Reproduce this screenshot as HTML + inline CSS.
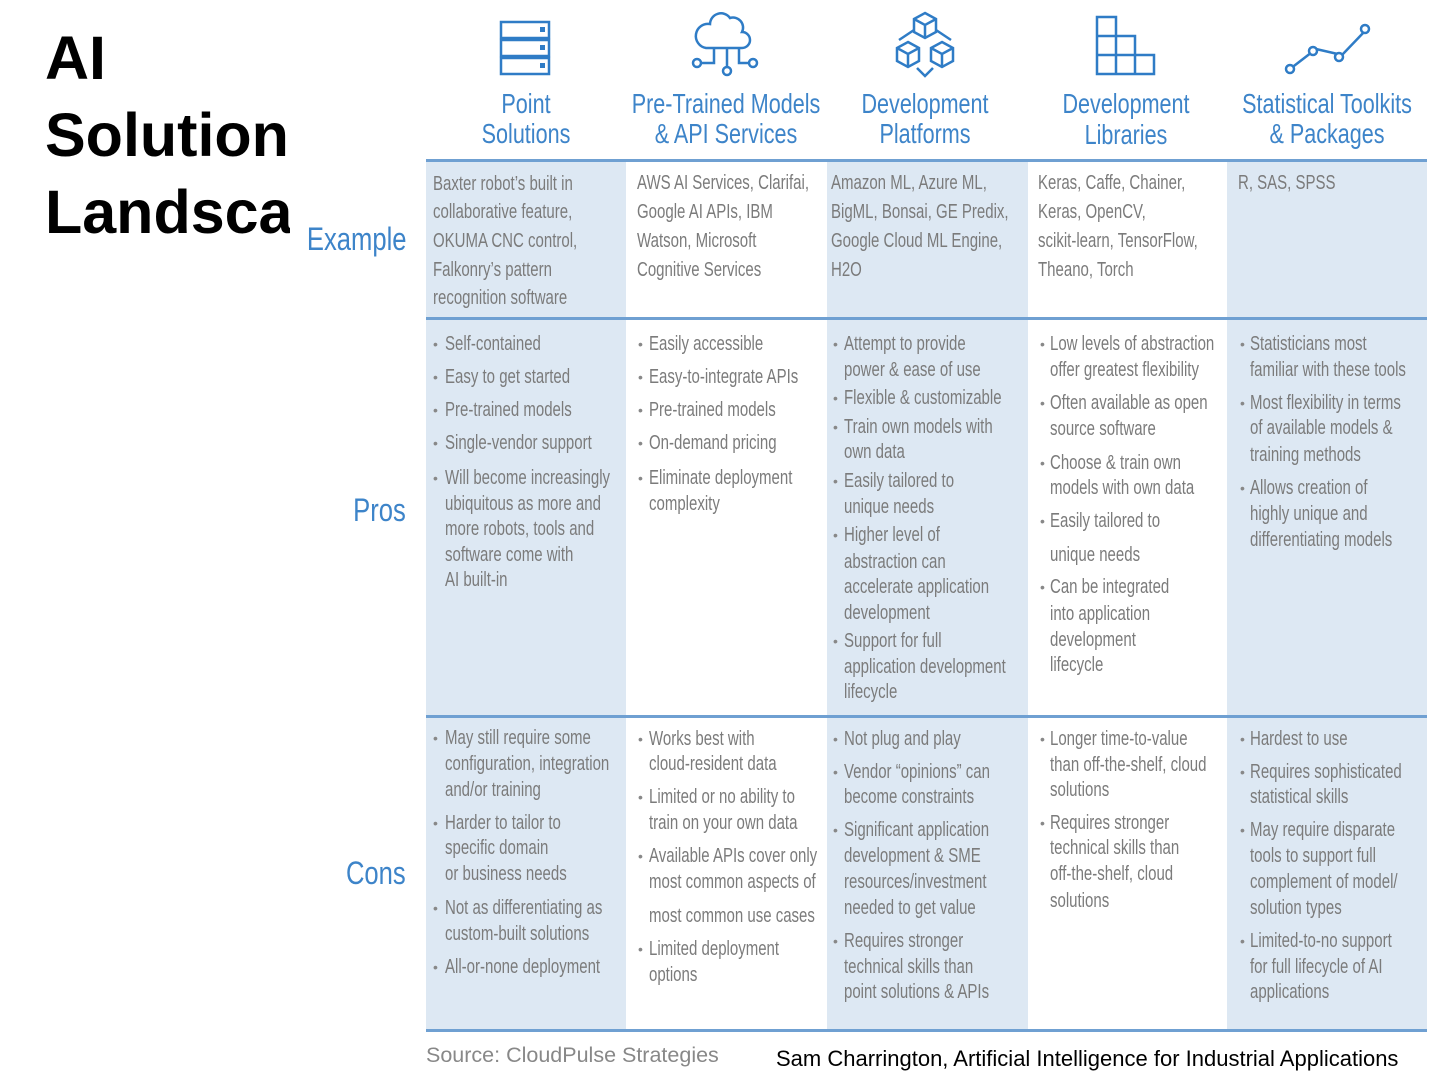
<!DOCTYPE html>
<html><head><meta charset="utf-8"><style>
body{margin:0;width:1440px;height:1080px;background:#fff;position:relative;overflow:hidden;font-family:"Liberation Sans",sans-serif}
.bg{position:absolute;top:162px;height:868px;background:#dde8f3}
.hl{position:absolute;left:426px;width:1001px;background:#6fa0d2}
.t{position:absolute;font-size:20px;line-height:24px;color:#7b7b7b;white-space:nowrap;transform:scaleX(.75);transform-origin:0 50%}
.b{position:absolute;font-size:14px;line-height:24px;color:#888}
.h{position:absolute;font-size:28px;line-height:30px;color:#3d84c9;white-space:nowrap;transform:translateX(-50%) scaleX(.77);text-align:center}
.r{position:absolute;font-size:32px;line-height:36px;color:#3d84c9;white-space:nowrap;transform:scaleX(.8);transform-origin:100% 50%;text-align:right;right:1034px}
.ti{position:absolute;left:45px;width:245px;overflow:hidden;font-weight:bold;font-size:61px;line-height:70px;color:#000;white-space:nowrap}
</style></head><body>
<div class="ti" style="top:23px">AI</div>
<div class="ti" style="top:100px">Solution</div>
<div class="ti" style="top:177px">Landsca</div>

<div class="bg" style="left:426px;width:200px"></div>
<div class="bg" style="left:827px;width:201px"></div>
<div class="bg" style="left:1227px;width:200px"></div>
<div class="hl" style="top:159px;height:3px"></div>
<div class="hl" style="top:317px;height:3px"></div>
<div class="hl" style="top:715px;height:3px"></div>
<div class="hl" style="top:1029px;height:3px"></div>

<svg style="position:absolute;left:0;top:0" width="1440" height="160" fill="none" stroke="#2f7cc6" stroke-width="2.5">
<rect x="501" y="22" width="48" height="16"/><rect x="501" y="40" width="48" height="16"/><rect x="501" y="58" width="48" height="16"/>
<rect x="540" y="27" width="5" height="5" fill="#2f7cc6" stroke="none"/><rect x="540" y="45" width="5" height="5" fill="#2f7cc6" stroke="none"/><rect x="540" y="63" width="5" height="5" fill="#2f7cc6" stroke="none"/>
<path d="M706 48 h36 a8 8 0 0 0 0-16 a10 10 0 0 0-12-14 a11 11 0 0 0-20 6 a8 8 0 0 0-4 24z"/>
<path d="M714 48 v15 h-13 M727 48 v20 M739 48 v15 h10"/><circle cx="697" cy="63" r="4"/><circle cx="727" cy="71" r="4"/><circle cx="753" cy="63" r="4"/>
<path d="M925 13 l11 6 v13 l-11 6 l-11-6 v-13z M914 19 l11 6 l11-6 M925 25 v13"/>
<path d="M908 42 l11 6 v13 l-11 6 l-11-6 v-13z M897 48 l11 6 l11-6 M908 54 v13"/>
<path d="M942 42 l11 6 v13 l-11 6 l-11-6 v-13z M931 48 l11 6 l11-6 M942 54 v13"/>
<path d="M914 30 l-15 10 M936 30 l15 10 M917 68 l8 8 l8-8"/>
<path d="M1097 17 h19 v19 h-19z M1097 36 h19 v19 h19 v19 h-38z M1116 36 h19 v38 M1097 55 h38 h19 v19 h-19 M1116 55 v19"/>
<path d="M1290 69 l26-20 l26 6 l23-24"/><circle cx="1290" cy="69" r="4" fill="#fff"/><circle cx="1313" cy="51" r="4" fill="#fff"/><circle cx="1339" cy="57" r="4" fill="#fff"/><circle cx="1365" cy="29" r="4" fill="#fff"/>
</svg>

<div class="h" style="left:526px;top:89px">Point</div><div class="h" style="left:526px;top:119px">Solutions</div>
<div class="h" style="left:726px;top:89px">Pre-Trained Models</div><div class="h" style="left:726px;top:119px">&amp; API Services</div>
<div class="h" style="left:925px;top:89px">Development</div><div class="h" style="left:925px;top:119px">Platforms</div>
<div class="h" style="left:1126px;top:89px">Development</div><div class="h" style="left:1126px;top:120px">Libraries</div>
<div class="h" style="left:1327px;top:89px">Statistical Toolkits</div><div class="h" style="left:1327px;top:119px">&amp; Packages</div>

<div class="r" style="top:221px">Example</div>
<div class="r" style="top:492px">Pros</div>
<div class="r" style="top:855px">Cons</div>

<div class="t" style="left:433px;top:172px">Baxter robot’s built in</div>
<div class="t" style="left:433px;top:200px">collaborative feature,</div>
<div class="t" style="left:433px;top:229px">OKUMA CNC control,</div>
<div class="t" style="left:433px;top:258px">Falkonry’s pattern</div>
<div class="t" style="left:433px;top:286px">recognition software</div>
<div class="t" style="left:637px;top:171px">AWS AI Services, Clarifai,</div>
<div class="t" style="left:637px;top:200px">Google AI APIs, IBM</div>
<div class="t" style="left:637px;top:229px">Watson, Microsoft</div>
<div class="t" style="left:637px;top:258px">Cognitive Services</div>
<div class="t" style="left:831px;top:171px">Amazon ML, Azure ML,</div>
<div class="t" style="left:831px;top:200px">BigML, Bonsai, GE Predix,</div>
<div class="t" style="left:831px;top:229px">Google Cloud ML Engine,</div>
<div class="t" style="left:831px;top:258px">H2O</div>
<div class="t" style="left:1038px;top:171px">Keras, Caffe, Chainer,</div>
<div class="t" style="left:1038px;top:200px">Keras, OpenCV,</div>
<div class="t" style="left:1038px;top:229px">scikit-learn, TensorFlow,</div>
<div class="t" style="left:1038px;top:258px">Theano, Torch</div>
<div class="t" style="left:1238px;top:171px">R, SAS, SPSS</div>

<div class="b" style="left:433px;top:332px">•</div><div class="t" style="left:445px;top:332px">Self-contained</div>
<div class="b" style="left:433px;top:365px">•</div><div class="t" style="left:445px;top:365px">Easy to get started</div>
<div class="b" style="left:433px;top:398px">•</div><div class="t" style="left:445px;top:398px">Pre-trained models</div>
<div class="b" style="left:433px;top:431px">•</div><div class="t" style="left:445px;top:431px">Single-vendor support</div>
<div class="b" style="left:433px;top:466px">•</div><div class="t" style="left:445px;top:466px">Will become increasingly</div>
<div class="t" style="left:445px;top:492px">ubiquitous as more and</div>
<div class="t" style="left:445px;top:517px">more robots, tools and</div>
<div class="t" style="left:445px;top:543px">software come with</div>
<div class="t" style="left:445px;top:568px">AI built-in</div>
<div class="b" style="left:638px;top:332px">•</div><div class="t" style="left:649px;top:332px">Easily accessible</div>
<div class="b" style="left:638px;top:365px">•</div><div class="t" style="left:649px;top:365px">Easy-to-integrate APIs</div>
<div class="b" style="left:638px;top:398px">•</div><div class="t" style="left:649px;top:398px">Pre-trained models</div>
<div class="b" style="left:638px;top:431px">•</div><div class="t" style="left:649px;top:431px">On-demand pricing</div>
<div class="b" style="left:638px;top:466px">•</div><div class="t" style="left:649px;top:466px">Eliminate deployment</div>
<div class="t" style="left:649px;top:492px">complexity</div>
<div class="b" style="left:833px;top:332px">•</div><div class="t" style="left:844px;top:332px">Attempt to provide</div>
<div class="t" style="left:844px;top:358px">power &amp; ease of use</div>
<div class="b" style="left:833px;top:386px">•</div><div class="t" style="left:844px;top:386px">Flexible &amp; customizable</div>
<div class="b" style="left:833px;top:415px">•</div><div class="t" style="left:844px;top:415px">Train own models with</div>
<div class="t" style="left:844px;top:440px">own data</div>
<div class="b" style="left:833px;top:469px">•</div><div class="t" style="left:844px;top:469px">Easily tailored to</div>
<div class="t" style="left:844px;top:495px">unique needs</div>
<div class="b" style="left:833px;top:523px">•</div><div class="t" style="left:844px;top:523px">Higher level of</div>
<div class="t" style="left:844px;top:550px">abstraction can</div>
<div class="t" style="left:844px;top:575px">accelerate application</div>
<div class="t" style="left:844px;top:601px">development</div>
<div class="b" style="left:833px;top:629px">•</div><div class="t" style="left:844px;top:629px">Support for full</div>
<div class="t" style="left:844px;top:655px">application development</div>
<div class="t" style="left:844px;top:680px">lifecycle</div>
<div class="b" style="left:1040px;top:332px">•</div><div class="t" style="left:1050px;top:332px">Low levels of abstraction</div>
<div class="t" style="left:1050px;top:358px">offer greatest flexibility</div>
<div class="b" style="left:1040px;top:391px">•</div><div class="t" style="left:1050px;top:391px">Often available as open</div>
<div class="t" style="left:1050px;top:417px">source software</div>
<div class="b" style="left:1040px;top:451px">•</div><div class="t" style="left:1050px;top:451px">Choose &amp; train own</div>
<div class="t" style="left:1050px;top:476px">models with own data</div>
<div class="b" style="left:1040px;top:509px">•</div><div class="t" style="left:1050px;top:509px">Easily tailored to</div>
<div class="t" style="left:1050px;top:543px">unique needs</div>
<div class="b" style="left:1040px;top:575px">•</div><div class="t" style="left:1050px;top:575px">Can be integrated</div>
<div class="t" style="left:1050px;top:602px">into application</div>
<div class="t" style="left:1050px;top:628px">development</div>
<div class="t" style="left:1050px;top:653px">lifecycle</div>
<div class="b" style="left:1240px;top:332px">•</div><div class="t" style="left:1250px;top:332px">Statisticians most</div>
<div class="t" style="left:1250px;top:358px">familiar with these tools</div>
<div class="b" style="left:1240px;top:391px">•</div><div class="t" style="left:1250px;top:391px">Most flexibility in terms</div>
<div class="t" style="left:1250px;top:416px">of available models &amp;</div>
<div class="t" style="left:1250px;top:443px">training methods</div>
<div class="b" style="left:1240px;top:476px">•</div><div class="t" style="left:1250px;top:476px">Allows creation of</div>
<div class="t" style="left:1250px;top:502px">highly unique and</div>
<div class="t" style="left:1250px;top:528px">differentiating models</div>

<div class="b" style="left:433px;top:726px">•</div><div class="t" style="left:445px;top:726px">May still require some</div>
<div class="t" style="left:445px;top:752px">configuration, integration</div>
<div class="t" style="left:445px;top:778px">and/or training</div>
<div class="b" style="left:433px;top:811px">•</div><div class="t" style="left:445px;top:811px">Harder to tailor to</div>
<div class="t" style="left:445px;top:836px">specific domain</div>
<div class="t" style="left:445px;top:862px">or business needs</div>
<div class="b" style="left:433px;top:896px">•</div><div class="t" style="left:445px;top:896px">Not as differentiating as</div>
<div class="t" style="left:445px;top:922px">custom-built solutions</div>
<div class="b" style="left:433px;top:955px">•</div><div class="t" style="left:445px;top:955px">All-or-none deployment</div>
<div class="b" style="left:638px;top:727px">•</div><div class="t" style="left:649px;top:727px">Works best with</div>
<div class="t" style="left:649px;top:752px">cloud-resident data</div>
<div class="b" style="left:638px;top:785px">•</div><div class="t" style="left:649px;top:785px">Limited or no ability to</div>
<div class="t" style="left:649px;top:811px">train on your own data</div>
<div class="b" style="left:638px;top:844px">•</div><div class="t" style="left:649px;top:844px">Available APIs cover only</div>
<div class="t" style="left:649px;top:870px">most common aspects of</div>
<div class="t" style="left:649px;top:904px">most common use cases</div>
<div class="b" style="left:638px;top:937px">•</div><div class="t" style="left:649px;top:937px">Limited deployment</div>
<div class="t" style="left:649px;top:963px">options</div>
<div class="b" style="left:833px;top:727px">•</div><div class="t" style="left:844px;top:727px">Not plug and play</div>
<div class="b" style="left:833px;top:760px">•</div><div class="t" style="left:844px;top:760px">Vendor “opinions” can</div>
<div class="t" style="left:844px;top:785px">become constraints</div>
<div class="b" style="left:833px;top:818px">•</div><div class="t" style="left:844px;top:818px">Significant application</div>
<div class="t" style="left:844px;top:844px">development &amp; SME</div>
<div class="t" style="left:844px;top:870px">resources/investment</div>
<div class="t" style="left:844px;top:896px">needed to get value</div>
<div class="b" style="left:833px;top:929px">•</div><div class="t" style="left:844px;top:929px">Requires stronger</div>
<div class="t" style="left:844px;top:955px">technical skills than</div>
<div class="t" style="left:844px;top:980px">point solutions &amp; APIs</div>
<div class="b" style="left:1040px;top:727px">•</div><div class="t" style="left:1050px;top:727px">Longer time-to-value</div>
<div class="t" style="left:1050px;top:753px">than off-the-shelf, cloud</div>
<div class="t" style="left:1050px;top:778px">solutions</div>
<div class="b" style="left:1040px;top:811px">•</div><div class="t" style="left:1050px;top:811px">Requires stronger</div>
<div class="t" style="left:1050px;top:836px">technical skills than</div>
<div class="t" style="left:1050px;top:862px">off-the-shelf, cloud</div>
<div class="t" style="left:1050px;top:889px">solutions</div>
<div class="b" style="left:1240px;top:727px">•</div><div class="t" style="left:1250px;top:727px">Hardest to use</div>
<div class="b" style="left:1240px;top:760px">•</div><div class="t" style="left:1250px;top:760px">Requires sophisticated</div>
<div class="t" style="left:1250px;top:785px">statistical skills</div>
<div class="b" style="left:1240px;top:818px">•</div><div class="t" style="left:1250px;top:818px">May require disparate</div>
<div class="t" style="left:1250px;top:844px">tools to support full</div>
<div class="t" style="left:1250px;top:870px">complement of model/</div>
<div class="t" style="left:1250px;top:896px">solution types</div>
<div class="b" style="left:1240px;top:929px">•</div><div class="t" style="left:1250px;top:929px">Limited-to-no support</div>
<div class="t" style="left:1250px;top:955px">for full lifecycle of AI</div>
<div class="t" style="left:1250px;top:980px">applications</div>

<div style="position:absolute;left:426px;top:1042px;font-size:21.5px;line-height:26px;color:#888;white-space:nowrap">Source: CloudPulse Strategies</div>
<div style="position:absolute;left:776px;top:1046px;font-size:22px;line-height:26px;color:#000;white-space:nowrap">Sam Charrington, Artificial Intelligence for Industrial Applications</div>
</body></html>
